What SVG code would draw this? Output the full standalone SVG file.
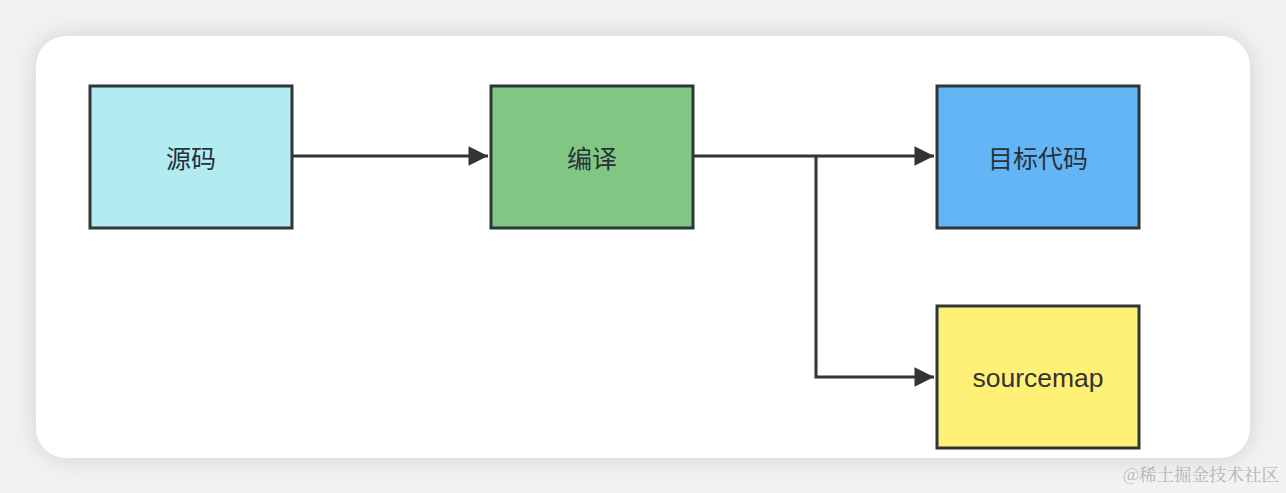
<svg xmlns="http://www.w3.org/2000/svg" width="1286" height="493" viewBox="0 0 1286 493">
<defs>
<filter id="sh" x="-10%" y="-20%" width="120%" height="140%">
<feGaussianBlur stdDeviation="12"/>
</filter>
<marker id="ah" viewBox="0 0 10 10" refX="10" refY="5" markerWidth="9" markerHeight="6.5" markerUnits="strokeWidth" orient="auto">
<path d="M0,0 L10,5 L0,10 z" fill="#333333"/>
</marker>
<style>
.box{stroke:#2e3636;stroke-width:3}
.lbl{font-family:"Noto Sans CJK SC","Noto Sans",sans-serif;font-size:25px;fill:#263238;text-anchor:middle;dominant-baseline:central}
.en{font-family:"Liberation Sans",Arial,sans-serif;font-size:26.5px;fill:#333;text-anchor:middle;dominant-baseline:central}
.ln{fill:none;stroke:#333333;stroke-width:3}
</style>
</defs>
<rect x="0" y="0" width="1286" height="493" fill="#f2f2f2"/>
<rect x="36" y="36" width="1214" height="422" rx="30" fill="#d0d0d0" filter="url(#sh)"/>
<rect x="36" y="36" width="1214" height="422" rx="30" fill="#ffffff"/>
<g id="connectors">
<line class="ln" x1="293" y1="156" x2="488" y2="156" marker-end="url(#ah)"/>
<line class="ln" x1="693" y1="156" x2="934" y2="156" marker-end="url(#ah)"/>
<polyline class="ln" points="816,156 816,377 934,377" marker-end="url(#ah)"/>
</g>
<g id="src">
<rect class="box" x="90" y="86" width="202" height="142" fill="#b2ebf0"/>
<text class="lbl" x="191" y="157">源码</text>
</g>
<g id="compile">
<rect class="box" x="491" y="86" width="202" height="142" fill="#81c784"/>
<text class="lbl" x="592" y="157">编译</text>
</g>
<g id="target">
<rect class="box" x="937" y="86" width="202" height="142" fill="#64b5f6"/>
<text class="lbl" x="1038" y="157">目标代码</text>
</g>
<g id="sourcemap">
<rect class="box" x="937" y="306" width="202" height="142" fill="#fff176"/>
<text class="en" x="1038" y="378">sourcemap</text>
</g>
<text x="1279" y="481" text-anchor="end" font-family="'Noto Serif CJK SC','Liberation Serif','Noto Sans CJK SC',serif" font-size="17.5" fill="#b4b4b4">@稀土掘金技术社区</text>
</svg>
